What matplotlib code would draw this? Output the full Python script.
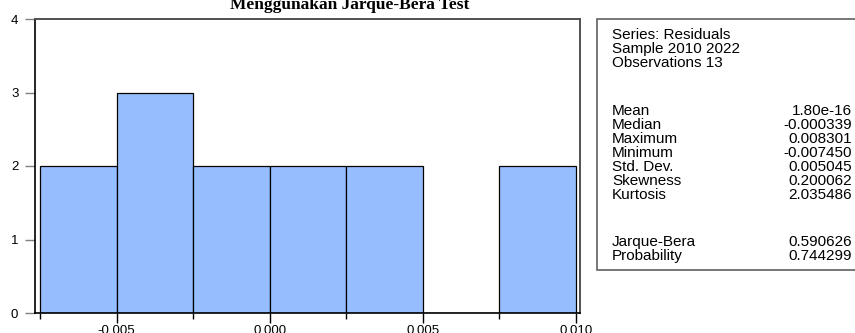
import matplotlib
matplotlib.use("Agg")
import matplotlib.pyplot as plt
from matplotlib.patches import Rectangle
from matplotlib.ticker import MultipleLocator, FixedLocator

# Histogram of residuals (bin edges and counts)
bin_edges = [-0.0075, -0.005, -0.0025, 0.0, 0.0025, 0.005, 0.0075, 0.01]
counts = [2, 3, 2, 2, 2, 0, 2]

x_ticks = [-0.005, 0.000, 0.005, 0.010]
x_tick_labels = ["-0.005", "0.000", "0.005", "0.010"]
y_ticks = [0, 1, 2, 3, 4]

title = "Menggunakan Jarque-Bera Test"

header_lines = ["Series: Residuals", "Sample 2010 2022", "Observations 13"]
stat_names = ["Mean", "Median", "Maximum", "Minimum", "Std. Dev.", "Skewness", "Kurtosis"]
stat_values = ["1.80e-16", "-0.000339", "0.008301", "-0.007450", "0.005045", "0.200062", "2.035486"]
test_names = ["Jarque-Bera", "Probability"]
test_values = ["0.590626", "0.744299"]

W, H = 855, 333
fig = plt.figure(figsize=(W / 100, H / 100), dpi=100)
plt.rcParams["font.family"] = ["Liberation Sans", "DejaVu Sans"]


def fx(px):
    return px / W


def fy(py):
    return (H - py) / H


ax = fig.add_axes([fx(35), fy(313), fx(580) - fx(35), fy(19) - fy(313)])

widths = [bin_edges[i + 1] - bin_edges[i] for i in range(len(counts))]
ax.bar(bin_edges[:-1], counts, width=widths, align="edge",
       color="#96BEFF", edgecolor="black", linewidth=0.9, zorder=2)

ax.set_xlim(-0.007663, 0.01013)
ax.set_ylim(0, 4)
ax.xaxis.set_major_locator(FixedLocator(x_ticks))
ax.set_xticklabels(x_tick_labels)
ax.xaxis.set_minor_locator(MultipleLocator(0.0025))
ax.set_yticks(y_ticks)

ax.tick_params(axis="x", which="major", direction="out", length=7, width=1,
               color="black", labelsize=9.5, pad=2)
ax.tick_params(axis="x", which="minor", direction="out", length=4, width=1,
               color="black")
ax.tick_params(axis="y", which="major", direction="out", length=7, width=1,
               color="#808080", labelsize=9.5, pad=5)

for side in ("left", "bottom"):
    ax.spines[side].set_color("black")
    ax.spines[side].set_linewidth(1.2)
for side in ("top", "right"):
    ax.spines[side].set_color("#505050")
    ax.spines[side].set_linewidth(1.4)

# Partially visible bold serif heading
fig.text(fx(350), fy(9), title, ha="center", va="baseline",
         fontsize=12.5, fontweight="bold", family=["Liberation Serif", "DejaVu Serif"])

# Statistics panel
box = Rectangle((fx(597), fy(270)), fx(880) - fx(597), fy(19) - fy(270),
                transform=fig.transFigure, facecolor="white",
                edgecolor="#606060", linewidth=1.2, clip_on=False)
fig.patches.append(box)

text_x = fx(612)
val_x = fx(852)
fs = 11
rows_header = [35, 49, 63]
rows_stats = [111, 125, 139, 153, 167, 181, 195]
rows_test = [242, 256]

for y, s in zip(rows_header, header_lines):
    fig.text(text_x, fy(y), s, ha="left", va="center", fontsize=fs)
for y, s, v in zip(rows_stats, stat_names, stat_values):
    fig.text(text_x, fy(y), s, ha="left", va="center", fontsize=fs)
    fig.text(val_x, fy(y), v, ha="right", va="center", fontsize=fs)
for y, s, v in zip(rows_test, test_names, test_values):
    fig.text(text_x, fy(y), s, ha="left", va="center", fontsize=fs)
    fig.text(val_x, fy(y), v, ha="right", va="center", fontsize=fs)

fig.savefig("out.png", dpi=100)
